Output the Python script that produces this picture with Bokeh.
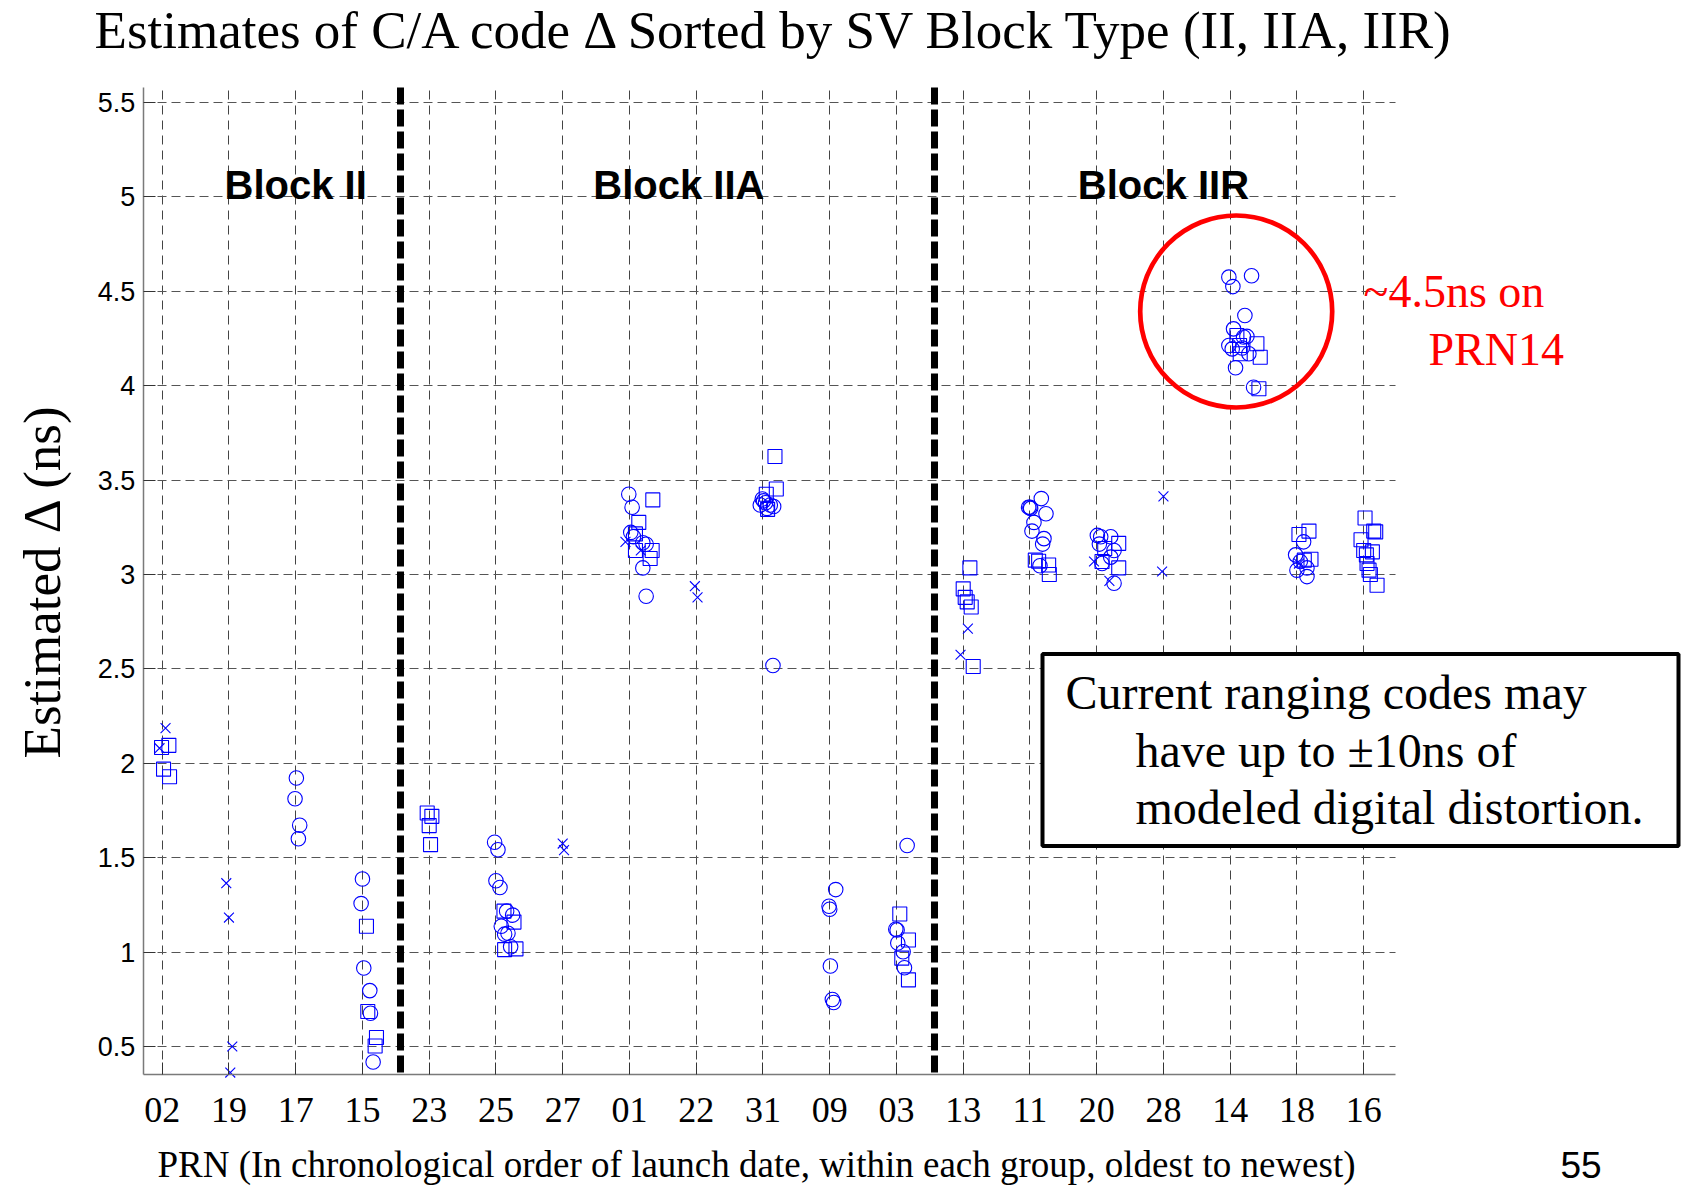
from bokeh.plotting import figure
from bokeh.models import Range1d, FixedTicker, Label, BoxAnnotation
from bokeh.embed import file_html
from bokeh.resources import INLINE

# ---------------- data ----------------
prn_labels = ["02", "19", "17", "15", "23", "25", "27", "01", "22", "31",
              "09", "03", "13", "11", "20", "28", "14", "18", "16"]
block_names = ["Block II", "Block IIA", "Block IIR"]
block_label_x = [2.0, 7.74, 15.0]
block_label_y = [5.0, 5.0, 5.0]
block_boundaries = [3.57, 11.57]
y_ticks = [0.5, 1.0, 1.5, 2.0, 2.5, 3.0, 3.5, 4.0, 4.5, 5.0, 5.5]
y_tick_text = ["0.5", "1", "1.5", "2", "2.5", "3", "3.5", "4", "4.5", "5", "5.5"]

# open circles (x = position along PRN axis, y = estimated delta, ns)
circle_pos = [2.01, 1.99, 2.06, 2.04,
              3.00, 2.98, 3.02, 3.11, 3.12, 3.16,
              4.98, 5.03, 5.00, 5.06, 5.16, 5.25, 5.08, 5.13, 5.18, 5.22,
              6.99, 7.04, 7.02, 7.06, 7.20, 7.25, 7.20, 7.25,
              8.99, 8.96, 9.04, 9.11, 9.16, 9.06, 9.01, 9.15,
              10.09, 9.99, 10.00, 10.01, 10.04, 10.06,
              11.16, 10.99, 11.01, 11.02, 11.10, 11.12,
              13.17, 13.00, 13.01, 12.98, 13.24, 13.06, 13.03, 13.21, 13.19, 13.15,
              14.01, 14.06, 14.21, 14.04, 14.26, 14.21, 14.08, 14.26,
              15.98, 16.04, 16.32, 16.22, 16.05, 15.98, 16.03, 16.25, 16.20, 16.28, 16.18, 16.08, 16.35,
              17.10, 16.98, 17.05, 17.00, 17.15, 17.15]
circle_val = [1.922, 1.812, 1.672, 1.600,
              1.387, 1.257, 0.916, 0.796, 0.676, 0.418,
              1.582, 1.542, 1.378, 1.342, 1.217, 1.196, 1.137, 1.095, 1.100, 1.028,
              3.425, 3.356, 3.223, 3.200, 3.168, 3.160, 3.035, 2.885,
              3.400, 3.368, 3.380, 3.368, 3.360, 3.350, 3.390, 2.518,
              1.331, 1.243, 1.227, 0.926, 0.749, 0.733,
              1.565, 1.121, 1.117, 1.048, 1.002, 0.917,
              3.402, 3.356, 3.350, 3.356, 3.322, 3.276, 3.230, 3.190, 3.161, 3.046,
              3.207, 3.200, 3.200, 3.161, 3.127, 3.092, 3.058, 2.954,
              4.575, 4.525, 4.582, 4.372, 4.301, 4.213, 4.195, 4.261, 4.258, 4.169, 4.200, 4.095, 3.992,
              3.173, 3.104, 3.069, 3.023, 3.035, 2.989]

# open squares
square_pos = [-0.01, 0.10, 0.02, 0.11,
              3.06, 3.08, 3.21, 3.19,
              3.97, 4.04, 4.00, 4.02,
              5.12, 5.27, 5.13, 5.30,
              7.35, 7.14, 7.09, 7.34, 7.09, 7.31,
              9.18, 9.20, 9.05, 9.07,
              11.05, 11.18, 11.08, 11.18,
              12.10, 12.00, 12.03, 12.06, 12.12, 12.15,
              13.08, 13.13, 13.28, 13.29,
              14.33, 14.12, 14.08, 14.33,
              16.10, 16.40, 16.14, 16.15, 16.45, 16.43,
              17.18, 17.03, 17.21, 17.11,
              18.02, 18.15, 18.18, 17.96, 18.00, 18.13, 18.04, 18.05, 18.08, 18.10, 18.20]
square_val = [2.084, 2.095, 1.969, 1.929,
              1.137, 0.685, 0.548, 0.503,
              1.737, 1.719, 1.670, 1.569,
              1.217, 1.159, 1.013, 1.017,
              3.395, 3.276, 3.215, 3.127, 3.127, 3.085,
              3.625, 3.453, 3.425, 3.345,
              1.202, 1.064, 0.968, 0.853,
              3.035, 2.924, 2.879, 2.855, 2.828, 2.513,
              3.076, 3.070, 3.050, 3.000,
              3.165, 3.138, 3.069, 3.035,
              4.266, 4.222, 4.213, 4.169, 4.151, 3.984,
              3.230, 3.212, 3.081, 3.076,
              3.299, 3.230, 3.226, 3.184, 3.127, 3.120, 3.104, 3.058, 3.023, 3.000, 2.943]

# x-marks
cross_pos = [0.05, -0.04, 0.96, 1.00, 1.05, 1.02, 6.00, 6.02, 6.94, 7.17,
             7.98, 8.02, 12.07, 11.96, 13.96, 14.19, 15.00, 14.98, 17.03]
cross_val = [2.186, 2.080, 1.365, 1.183, 0.500, 0.362, 1.575, 1.540, 3.173, 3.127,
             2.938, 2.879, 2.713, 2.575, 3.069, 2.966, 3.414, 3.016, 3.058]

# ---------------- geometry ----------------
W, H = 1687, 1186
PX0, PPX = 161.7, 66.75      # page x of first PRN tick, pixels per PRN step
PY3, PPY = 574.0, 188.8      # page y of 3 ns, pixels per ns


def ax(px):
    return (px - PX0) / PPX


def ay(py):
    return 3.0 - (py - PY3) / PPY


SERIF = "Liberation Serif"
SANS = "Liberation Sans"
MID = {SERIF: 0.3375, SANS: 0.3465}   # baseline -> middle of font box, in em


def ay_base(py_baseline, fs, font):
    """data y for a label drawn with text_baseline='middle' whose baseline sits at page y."""
    return ay(py_baseline - MID[font] * fs)


X0, X1 = ax(142.7), ax(1395)     # axis extent
Y0, Y1 = ay(1074), ay(87)

BLUE = "#0000FF"

p = figure(width=W, height=H, output_backend="svg", toolbar_location=None,
           x_range=Range1d(ax(0), ax(W)), y_range=Range1d(ay(H), ay(0)),
           min_border=0, min_border_left=0, min_border_right=0,
           min_border_top=0, min_border_bottom=0)
p.title.visible = False
p.outline_line_color = None
p.background_fill_color = "white"
p.border_fill_color = "white"

# axes drawn at the edges of the data area
p.xaxis.fixed_location = Y0
p.yaxis.fixed_location = X0
p.xaxis.bounds = (X0, X1)
p.yaxis.bounds = (Y0, Y1)
p.xaxis.ticker = FixedTicker(ticks=list(range(len(prn_labels))))
p.xaxis.major_label_overrides = {i: lab for i, lab in enumerate(prn_labels)}
p.xaxis.major_label_text_font = SERIF
p.xaxis.major_label_text_font_size = "36px"
p.xaxis.major_label_standoff = 23
p.yaxis.ticker = FixedTicker(ticks=y_ticks)
p.yaxis.major_label_overrides = {t: s for t, s in zip(y_ticks, y_tick_text)}
p.yaxis.major_label_text_font = SANS
p.yaxis.major_label_text_font_size = "27px"
p.yaxis.major_label_standoff = 8
for a in (p.xaxis[0], p.yaxis[0]):
    a.major_tick_in = 12
    a.major_tick_out = 0
    a.minor_tick_in = 0
    a.minor_tick_out = 0
    a.major_tick_line_color = "#333333"
    a.axis_line_color = "#7a7a7a"
    a.axis_line_width = 1.5
    a.major_label_text_color = "black"

p.yaxis.axis_label = "Estimated \u0394 (ns)"
p.yaxis.axis_label_text_font = SERIF
p.yaxis.axis_label_text_font_size = "53px"
p.yaxis.axis_label_text_font_style = "normal"
p.yaxis.axis_label_text_color = "black"
p.yaxis.axis_label_standoff = 24

p.xgrid.cross_bounds = (Y0, Y1)
p.ygrid.cross_bounds = (X0, X1)
p.xgrid.grid_line_color = "#444444"
p.xgrid.grid_line_dash = "9 6"
p.xgrid.grid_line_width = 1
p.ygrid.grid_line_color = "#555555"
p.ygrid.grid_line_dash = "9 5"
p.ygrid.grid_line_width = 1

# data markers
p.scatter(circle_pos, circle_val, marker="circle", size=14.5, fill_color=None,
          line_color=BLUE, line_width=1.1)
p.scatter(square_pos, square_val, marker="square", size=14, fill_color=None,
          line_color=BLUE, line_width=1.1)
p.scatter(cross_pos, cross_val, marker="x", size=14, line_color=BLUE, line_width=1.1)

# block separators (thick dashed)
p.segment(x0=block_boundaries, x1=block_boundaries,
          y0=[Y1] * len(block_boundaries), y1=[Y0] * len(block_boundaries),
          line_color="black", line_width=7, line_dash="17 5")

# block names (baseline resting on the 5 ns grid line)
for name, bx, by in zip(block_names, block_label_x, block_label_y):
    p.add_layout(Label(x=bx, y=by + MID[SANS] * 40 / PPY - 1.5 / PPY, text=name,
                       text_font=SANS, text_font_style="bold",
                       text_font_size="40px", text_align="center",
                       text_baseline="middle", text_color="black"))

# red highlight ring around PRN14
p.circle(x=[ax(1235.7)], y=[ay(311)], radius=96, radius_units="screen",
         fill_color=None, line_color="#FF0000", line_width=4.7)
p.add_layout(Label(x=ax(1363), y=ay_base(306.7, 46, SERIF), text="~4.5ns on",
                   text_font=SERIF, text_font_size="46px", text_color="#FF0000",
                   text_align="left", text_baseline="middle"))
p.add_layout(Label(x=ax(1428), y=ay_base(365, 46, SERIF), text="PRN14",
                   text_font=SERIF, text_font_size="46px", text_color="#FF0000",
                   text_align="left", text_baseline="middle"))

# note box
p.add_layout(BoxAnnotation(left=ax(1042), right=ax(1678), top=ay(653.6), bottom=ay(845.4),
                           fill_color="white", fill_alpha=1.0,
                           line_color="black", line_width=4, line_alpha=1.0))
for txt, px, py in [("Current ranging codes may", 1065, 708.4),
                    ("have up to \u00b110ns of", 1135, 766.3),
                    ("modeled digital distortion.", 1135, 823.5)]:
    p.add_layout(Label(x=ax(px), y=ay_base(py, 48, SERIF), text=txt, text_font=SERIF,
                       text_font_size="48px", text_color="black",
                       text_align="left", text_baseline="middle"))

# title, x-axis caption, page number
p.add_layout(Label(x=ax(776), y=ay_base(47, 53, SERIF),
                   text="Estimates of C/A code \u0394 Sorted by SV Block Type (II, IIA, IIR)",
                   text_font=SERIF, text_font_size="53px", text_color="black",
                   text_align="center", text_baseline="middle"))
p.add_layout(Label(x=ax(756), y=ay_base(1176.5, 37, SERIF),
                   text="PRN (In chronological order of launch date, within each group, oldest to newest)",
                   text_font=SERIF, text_font_size="37px", text_color="black",
                   text_align="center", text_baseline="middle"))
p.add_layout(Label(x=ax(1560), y=ay(1164), text="55", text_font=SANS,
                   text_font_size="37px", text_color="black",
                   text_align="left", text_baseline="middle"))

open("out.html", "w").write(file_html(p, INLINE))
